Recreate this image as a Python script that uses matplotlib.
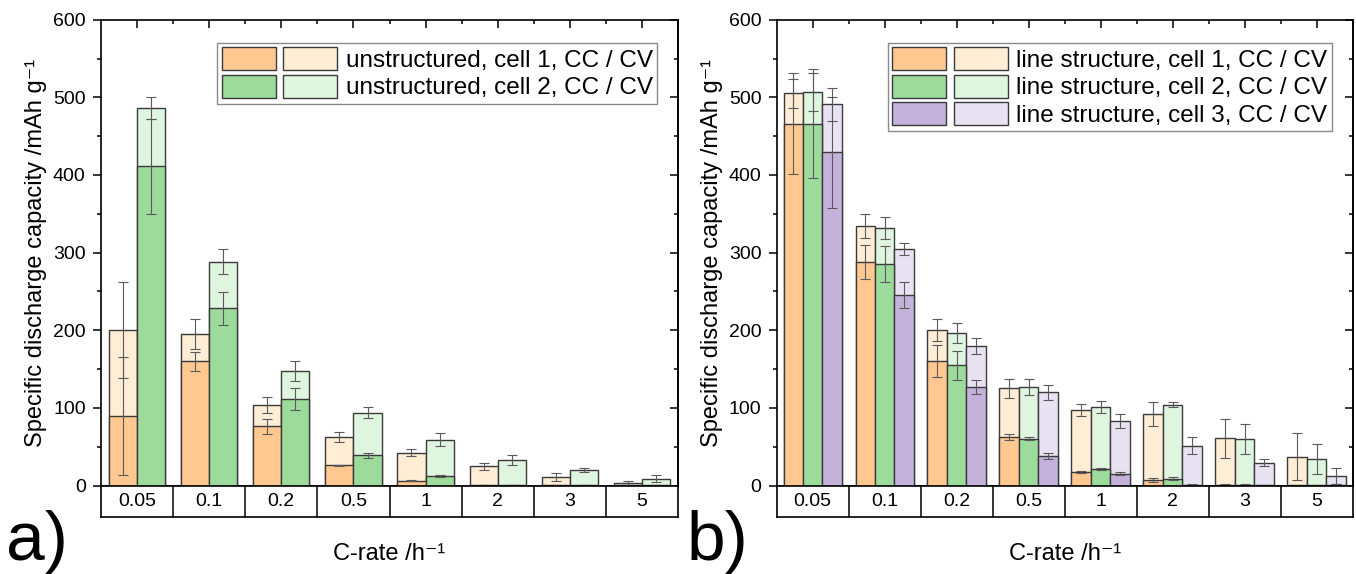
import matplotlib
matplotlib.use("Agg")
import matplotlib.pyplot as plt
from matplotlib.patches import Patch
from matplotlib.legend_handler import HandlerTuple
from matplotlib.ticker import MultipleLocator
import numpy as np

plt.rcParams['font.family'] = ['Liberation Sans', 'DejaVu Sans']

#%% data: discharge capacity per C-rate (CC part and total CC/CV), mean and deviation
rates = ['0.05', '0.1', '0.2', '0.5', '1', '2', '3', '5']

# a) unstructured electrodes
u1_cc = [90, 160, 76, 26, 6, 0.5, 0.3, 1]
u1_cc_err = [76, 12, 9.5, 1, 0.8, 0, 0, 0]
u1_cccv = [200, 195, 104, 63, 42, 25, 11, 3]
u1_cccv_err = [62, 19, 10.5, 6.5, 4.5, 4.5, 5, 3]
u2_cc = [411, 228, 111, 39, 12, 1, 0.5, 1]
u2_cc_err = [61, 21, 14, 3, 1.5, 0, 0, 0]
u2_cccv = [486, 288, 148, 94, 59, 33, 20, 9]
u2_cccv_err = [14, 16, 13, 7.5, 8, 6.5, 2.5, 5]

# b) line structured electrodes
l1_cc = [466, 288, 160, 62, 17, 7, 1, 0.5]
l1_cc_err = [65, 22, 20.5, 4, 1.5, 3, 1, 0.5]
l1_cccv = [505, 334, 200, 125, 97, 92, 61, 37]
l1_cccv_err = [19, 15.5, 14, 12.5, 7.7, 16, 25, 30]
l2_cc = [466, 285, 155, 60, 21, 9, 1, 0.5]
l2_cc_err = [70, 23, 18.5, 2, 1.5, 2.5, 1, 0.5]
l2_cccv = [507, 332, 196, 127, 101, 104, 60, 34]
l2_cccv_err = [24, 14, 13, 10.5, 7.5, 3, 19, 19]
l3_cc = [429, 245, 127, 38, 15, 1, 0.5, 1]
l3_cc_err = [71, 17, 9, 4.5, 2, 0.5, 0.5, 1]
l3_cccv = [491, 305, 180, 120, 83, 51, 29, 12]
l3_cccv_err = [21, 8, 10.5, 9.5, 9.5, 11, 4.5, 10]

labels_a = ['unstructured, cell 1, CC / CV', 'unstructured, cell 2, CC / CV']
labels_b = ['line structure, cell 1, CC / CV', 'line structure, cell 2, CC / CV',
            'line structure, cell 3, CC / CV']

# colours (dark = CC, light = CC/CV)
orange = ('#FFC891', '#FFEDD6')
green = ('#9CDB9C', '#E0F5E0')
purple = ('#C3B2DA', '#E8E2F2')

edge = '#3a3a3a'
errc = '#5a5a5a'


def draw_panel(ax, ax_cat, cells, colors, labels, width):
    x = np.arange(len(rates))
    n = len(cells)
    offsets = (np.arange(n) - (n - 1) / 2) * width
    handles = []
    for (cc, cc_err, cccv, cccv_err), (dark, light), off in zip(cells, colors, offsets):
        # total CC/CV bar first, CC part on top of it
        ax.bar(x + off, cccv, width, color=light, edgecolor=edge, lw=1.0, zorder=2)
        ax.bar(x + off, cc, width, color=dark, edgecolor=edge, lw=1.0, zorder=3)
        ax.errorbar(x + off, cccv, yerr=cccv_err, fmt='none', ecolor=errc,
                    elinewidth=0.8, capsize=3.7, capthick=0.8, zorder=4)
        ax.errorbar(x + off, cc, yerr=cc_err, fmt='none', ecolor=errc,
                    elinewidth=0.8, capsize=3.7, capthick=0.8, zorder=4)
        handles.append((Patch(facecolor=dark, edgecolor=edge, lw=1.0),
                        Patch(facecolor=light, edgecolor=edge, lw=1.0)))

    ax.set_xlim(-0.5, len(rates) - 0.5)
    ax.set_ylim(0, 600)
    ax.yaxis.set_major_locator(MultipleLocator(100))
    ax.yaxis.set_minor_locator(MultipleLocator(50))
    ax.tick_params(axis='y', which='major', direction='out', length=6, width=1.1,
                   labelsize=14, pad=5)
    ax.tick_params(axis='y', which='minor', direction='out', length=3, width=1.1)

    # ticks on top: category centres and borders
    ax.xaxis.tick_top()
    ax.set_xticks(x)
    ax.set_xticks(x[:-1] + 0.5, minor=True)
    ax.tick_params(axis='x', which='major', direction='in', length=6, width=1.1,
                   labeltop=False)
    ax.tick_params(axis='x', which='minor', direction='in', length=3, width=1.1)

    sec = ax.secondary_yaxis('right')
    sec.yaxis.set_major_locator(MultipleLocator(100))
    sec.yaxis.set_minor_locator(MultipleLocator(50))
    sec.tick_params(which='major', direction='in', length=6, width=1.1, labelright=False)
    sec.tick_params(which='minor', direction='in', length=3, width=1.1)
    sec.spines['right'].set_linewidth(1.2)

    for s in ax.spines.values():
        s.set_linewidth(1.2)

    ax.set_ylabel('Specific discharge capacity /mAh g⁻¹', fontsize=17, labelpad=4)

    leg = ax.legend(handles, labels, handler_map={tuple: HandlerTuple(ndivide=None, pad=0.3)},
                    loc='upper right', bbox_to_anchor=(1 - 21 / 577, 1 - 23 / 466),
                    borderaxespad=0, fontsize=17.5, handlelength=4.75, handleheight=1.07,
                    handletextpad=0.35, labelspacing=0.12, borderpad=0.18,
                    fancybox=False, framealpha=1)
    leg.get_frame().set_edgecolor('#8a8a8a')
    leg.get_frame().set_linewidth(1.0)

    # category boxes under the axis
    ax_cat.set_xlim(-0.5, len(rates) - 0.5)
    ax_cat.set_ylim(0, 1)
    ax_cat.set_xticks([])
    ax_cat.set_yticks([])
    for s in ax_cat.spines.values():
        s.set_linewidth(1.2)
    for b in x[:-1] + 0.5:
        ax_cat.axvline(b, color='k', lw=1.1)
    for xi, r in zip(x, rates):
        ax_cat.text(xi, 0.5, r, ha='center', va='center', fontsize=14)


fig = plt.figure(figsize=(13.56, 5.74), dpi=100)
W, H = 1356, 574

def px_axes(x0, x1, ytop, ybot):
    return fig.add_axes([x0 / W, (H - ybot) / H, (x1 - x0) / W, (ybot - ytop) / H])

ax_a = px_axes(101, 678, 19.7, 485.5)
cat_a = px_axes(101, 678, 485.5, 516.8)
ax_b = px_axes(776.7, 1352.5, 19.7, 485.5)
cat_b = px_axes(776.7, 1352.5, 485.5, 516.8)

draw_panel(ax_a, cat_a,
           [(u1_cc, u1_cc_err, u1_cccv, u1_cccv_err),
            (u2_cc, u2_cc_err, u2_cccv, u2_cccv_err)],
           [orange, green], labels_a, 0.39)
draw_panel(ax_b, cat_b,
           [(l1_cc, l1_cc_err, l1_cccv, l1_cccv_err),
            (l2_cc, l2_cc_err, l2_cccv, l2_cccv_err),
            (l3_cc, l3_cc_err, l3_cccv, l3_cccv_err)],
           [orange, green, purple], labels_b, 0.27)

# x labels and panel letters
fig.text((101 + 678) / 2 / W, (H - 560) / H, 'C-rate /h⁻¹', ha='center',
         va='baseline', fontsize=17)
fig.text((776.7 + 1352.5) / 2 / W, (H - 560) / H, 'C-rate /h⁻¹', ha='center',
         va='baseline', fontsize=17)
fig.text(6 / W, (H - 560) / H, 'a)', ha='left', va='baseline', fontsize=50)
fig.text(687 / W, (H - 560) / H, 'b)', ha='left', va='baseline', fontsize=50)

fig.savefig('out.png', dpi=100)
